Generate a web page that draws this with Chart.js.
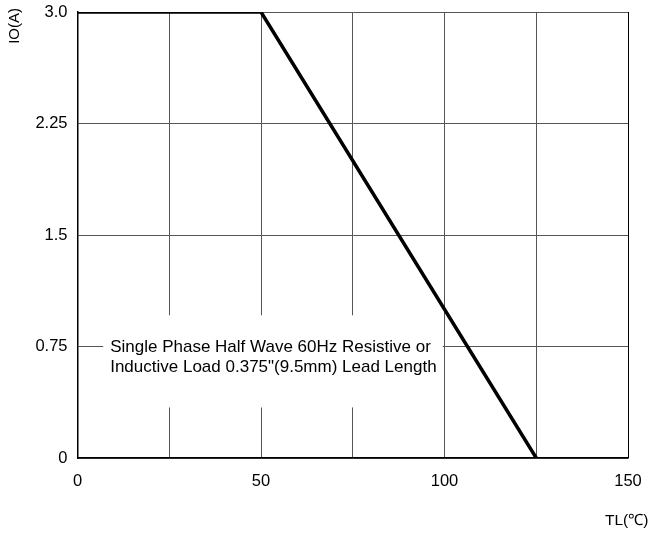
<html>
<head>
  <title>IO vs TL derating</title>
  <script src="https://cdn.jsdelivr.net/npm/chart.js@4.4.0/dist/chart.umd.min.js"></script>
  <style>
    html, body { margin: 0; padding: 0; background: #fff; }
    #wrap { width: 656px; height: 536px; }
  </style>
</head>
<body>
  <div id="wrap"><canvas id="chart" width="656" height="536"></canvas></div>

  <script>
    // curve points (temperature, current)
    var tempValues = [0, 50, 125];
    var currentValues = [3.0, 3.0, 0];

    var xTicks = [0, 25, 50, 75, 100, 125, 150];
    var xTickLabels = ['0', '', '50', '', '100', '', '150'];
    var yTicks = [0, 0.75, 1.5, 2.25, 3.0];
    var yTickLabels = ['0', '0.75', '1.5', '2.25', '3.0'];

    var noteLines = [
      'Single Phase Half Wave 60Hz Resistive or',
      'Inductive Load 0.375"(9.5mm) Lead Length'
    ];

    var FONT = '"Liberation Sans", Arial, sans-serif';

    var points = [];
    for (var i = 0; i < tempValues.length; i++) {
      points.push({x: tempValues[i], y: currentValues[i]});
    }

    // white box with the note, covering the grid behind it
    var notePlugin = {
      id: 'note',
      beforeDatasetsDraw: function(chart) {
        var ctx = chart.ctx;
        var xs = chart.scales.x, ys = chart.scales.y;
        var left = xs.getPixelForValue(7), right = xs.getPixelForValue(99.5);
        var top = ys.getPixelForValue(0.96), bottom = ys.getPixelForValue(0.34);
        ctx.save();
        ctx.fillStyle = '#fff';
        ctx.fillRect(left, top, right - left, bottom - top);
        ctx.fillStyle = '#000';
        ctx.font = '17px ' + FONT;
        ctx.textBaseline = 'middle';
        ctx.textAlign = 'left';
        var ty = ys.getPixelForValue(0.75);
        ctx.fillText(noteLines[0], left + 7, ty + 1);
        ctx.fillText(noteLines[1], left + 7, ty + 21);
        ctx.restore();
      },
      afterDraw: function(chart) {
        var ctx = chart.ctx;
        ctx.save();
        ctx.fillStyle = '#000';
        ctx.font = '15px ' + FONT;
        // y axis title
        ctx.translate(15, 8);
        ctx.rotate(-Math.PI / 2);
        ctx.textAlign = 'right';
        ctx.textBaseline = 'middle';
        ctx.fillText('IO(A)', 0, 0);
        ctx.restore();
        ctx.save();
        ctx.fillStyle = '#000';
        ctx.font = '15.5px ' + FONT;
        ctx.textAlign = 'left';
        ctx.textBaseline = 'middle';
        ctx.fillText('TL(℃)', 605, 521);
        ctx.restore();
      }
    };

    new Chart(document.getElementById('chart'), {
      type: 'scatter',
      data: {
        datasets: [{
          data: points,
          showLine: true,
          borderColor: '#000',
          borderWidth: 3.5,
          pointRadius: 0,
          tension: 0
        }]
      },
      options: {
        responsive: false,
        animation: false,
        layout: { padding: { top: 12, right: 28, left: 0, bottom: 0 } },
        plugins: { legend: { display: false }, tooltip: { enabled: false } },
        scales: {
          x: {
            type: 'linear',
            min: 0, max: 150,
            afterBuildTicks: function(s) { s.ticks = xTicks.map(function(v) { return {value: v}; }); },
            afterFit: function(s) { s.height = 78; s.paddingLeft = 0; s.paddingRight = 0; },
            ticks: {
              color: '#000',
              font: { family: FONT, size: 16.5 },
              padding: 14,
              maxRotation: 0,
              autoSkip: false,
              callback: function(v) { return xTickLabels[xTicks.indexOf(v)]; }
            },
            grid: {
              drawTicks: false,
              color: function(c) { return (c.tick && c.tick.value === 150) ? '#000' : '#555'; },
              lineWidth: 1
            },
            border: { color: '#000', width: 1.5 }
          },
          y: {
            type: 'linear',
            min: 0, max: 3,
            afterBuildTicks: function(s) { s.ticks = yTicks.map(function(v) { return {value: v}; }); },
            afterFit: function(s) { s.width = 77.5; s.paddingTop = 0; s.paddingBottom = 0; },
            ticks: {
              color: '#000',
              font: { family: FONT, size: 16.5 },
              padding: 10,
              autoSkip: false,
              callback: function(v) { return yTickLabels[yTicks.indexOf(v)]; }
            },
            grid: {
              drawTicks: false,
              color: '#555',
              lineWidth: 1
            },
            border: { color: '#000', width: 1.5 }
          }
        }
      },
      plugins: [notePlugin]
    });
  </script>
</body>
</html>
